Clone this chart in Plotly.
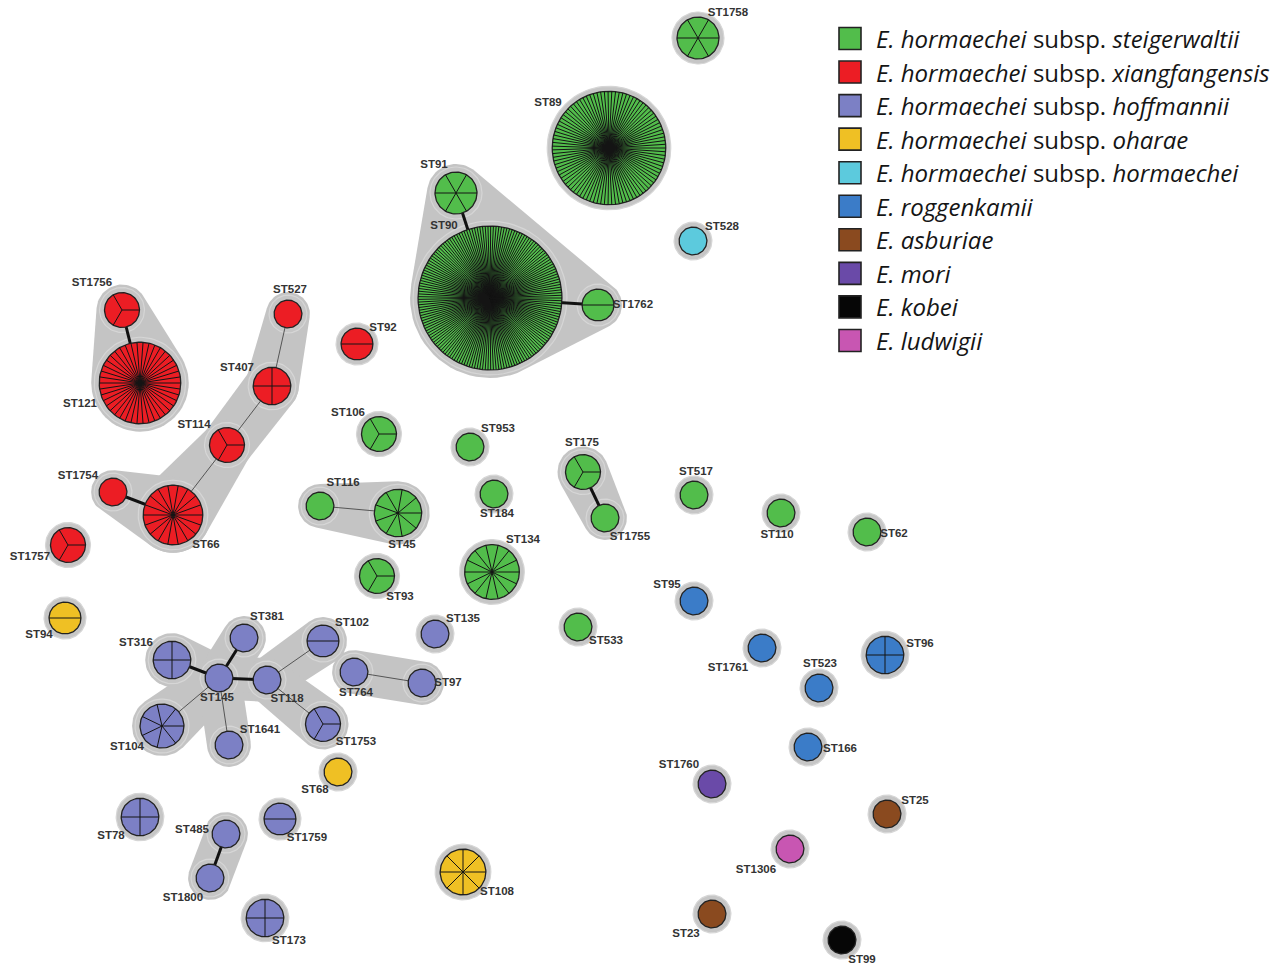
import math
import plotly.graph_objects as go

# ---------------- data ----------------
species_names = [
    "<i>E. hormaechei</i> subsp. <i>steigerwaltii</i>",
    "<i>E. hormaechei</i> subsp. <i>xiangfangensis</i>",
    "<i>E. hormaechei</i> subsp. <i>hoffmannii</i>",
    "<i>E. hormaechei</i> subsp. <i>oharae</i>",
    "<i>E. hormaechei</i> subsp. <i>hormaechei</i>",
    "<i>E. roggenkamii</i>",
    "<i>E. asburiae</i>",
    "<i>E. mori</i>",
    "<i>E. kobei</i>",
    "<i>E. ludwigii</i>",
]
species_colors = ["#52bd4b", "#ec1d24", "#7c80c5", "#efc024", "#5ccadd",
                  "#3b7cc8", "#8a4a1f", "#6a4aa8", "#060606", "#c856b2"]

st_names = ["ST1756", "ST121", "ST527", "ST407", "ST114", "ST1754", "ST66", "ST1757", "ST92",
            "ST1758", "ST89", "ST91", "ST90", "ST1762", "ST528",
            "ST106", "ST953", "ST116", "ST45", "ST184", "ST175", "ST1755", "ST93", "ST134",
            "ST517", "ST110", "ST62", "ST533",
            "ST95", "ST1761", "ST523", "ST96", "ST166", "ST1760", "ST25", "ST1306", "ST23", "ST99",
            "ST94", "ST316", "ST381", "ST145", "ST118", "ST102", "ST764", "ST97", "ST135",
            "ST104", "ST1641", "ST1753", "ST68", "ST78", "ST485", "ST1800", "ST1759", "ST173", "ST108"]
st_x = [122, 140, 288, 272, 227, 113, 173, 68, 357,
        698, 609, 456, 490, 598, 693,
        379, 470, 320, 398, 494, 583, 605, 377, 492,
        694, 781, 867, 578,
        694, 762, 819, 885, 808, 712, 887, 790, 712, 842,
        65, 172, 244, 219, 267, 323, 354, 422, 435,
        162, 229, 323, 338, 140, 226, 210, 280, 265, 463]
st_y = [310, 383, 314, 386, 445, 492, 515, 545, 344,
        38, 148, 193, 298, 305, 241,
        434, 447, 506, 513, 494, 472, 518, 576, 572,
        495, 513, 532, 627,
        601, 648, 688, 655, 747, 784, 814, 849, 914, 940,
        618, 660, 638, 678, 680, 641, 672, 683, 634,
        726, 745, 724, 772, 817, 834, 878, 819, 918, 872]
st_isolates = [3, 42, 1, 4, 3, 1, 18, 3, 2,
               6, 95, 6, 165, 2, 1,
               3, 1, 1, 9, 1, 3, 1, 3, 14,
               1, 1, 1, 1,
               1, 1, 1, 4, 1, 1, 1, 1, 1, 1,
               2, 4, 1, 1, 1, 2, 1, 1, 1,
               7, 1, 3, 1, 4, 1, 1, 2, 4, 8]
st_species = [1, 1, 1, 1, 1, 1, 1, 1, 1,
              0, 0, 0, 0, 0, 4,
              0, 0, 0, 0, 0, 0, 0, 0, 0,
              0, 0, 0, 0,
              5, 5, 5, 5, 5, 7, 6, 9, 6, 8,
              3, 2, 2, 2, 2, 2, 2, 2, 2,
              2, 2, 2, 3, 2, 2, 2, 2, 2, 3]
label_dx = [-30, -60, 2, -35, -33, -35, 33, -38, 26,
            30, -61, -22, -46, 35, 29,
            -31, 28, 23, 4, 3, -1, 25, 23, 31,
            2, -4, 27, 28,
            -27, -34, 1, 35, 32, -33, 28, -34, -26, 20,
            -26, -36, 23, -2, 20, 29, 2, 26, 28,
            -35, 31, 33, -23, -29, -34, -27, 27, 24, 34]
label_dy = [-27, 21, -24, -18, -20, -16, 30, 12, -16,
            -25, -45, -28, -72, 0, -14,
            -21, -18, -23, 32, 20, -29, 19, 21, -32,
            -23, 22, 2, 14,
            -16, 20, -24, -11, 2, -19, -13, 21, 20, 20,
            17, -17, -21, 20, 19, -18, 21, 0, -15,
            21, -15, 18, 18, 19, -4, 20, 19, 23, 20]

edge_from = ["ST1756", "ST527", "ST407", "ST114", "ST1754", "ST91", "ST90", "ST116", "ST175",
             "ST316", "ST381", "ST145", "ST145", "ST145", "ST118", "ST118", "ST764", "ST485"]
edge_to = ["ST121", "ST407", "ST114", "ST66", "ST66", "ST90", "ST1762", "ST45", "ST1755",
           "ST145", "ST145", "ST118", "ST104", "ST1641", "ST102", "ST1753", "ST97", "ST1800"]
edge_close = [True, False, False, False, True, True, True, False, True,
              True, True, True, False, False, False, False, False, True]

cluster_groups = [["ST1756", "ST121"], ["ST527", "ST407"], ["ST407", "ST114"], ["ST114", "ST66"],
                  ["ST66", "ST1754"], ["ST91", "ST90", "ST1762"], ["ST116", "ST45"],
                  ["ST175", "ST1755"], ["ST316", "ST145"], ["ST381", "ST145"], ["ST145", "ST118"],
                  ["ST145", "ST104"], ["ST145", "ST1641"], ["ST118", "ST102"], ["ST118", "ST1753"],
                  ["ST764", "ST97"], ["ST485", "ST1800"]]

# ---------------- helpers ----------------
W, H = 1285, 966
idx = {n: i for i, n in enumerate(st_names)}


def radius(n):
    return 9 + 4.9 * math.sqrt(n)


radii = [radius(n) for n in st_isolates]


def circle(cx, cy, r, k=90):
    xs, ys = [], []
    for j in range(k + 1):
        t = 2 * math.pi * j / k
        xs.append(cx + r * math.cos(t))
        ys.append(cy + r * math.sin(t))
    return xs, ys


def hull(points):
    pts = sorted(set(points))
    if len(pts) < 3:
        return pts

    def cross(o, a, b):
        return (a[0] - o[0]) * (b[1] - o[1]) - (a[1] - o[1]) * (b[0] - o[0])
    lower, upper = [], []
    for p in pts:
        while len(lower) >= 2 and cross(lower[-2], lower[-1], p) <= 0:
            lower.pop()
        lower.append(p)
    for p in reversed(pts):
        while len(upper) >= 2 and cross(upper[-2], upper[-1], p) <= 0:
            upper.pop()
        upper.append(p)
    return lower[:-1] + upper[:-1]


fig = go.Figure()

HULL_PAD = 8
HALO = 5

# cluster shading
for grp in cluster_groups:
    pts = []
    for name in grp:
        i = idx[name]
        xs, ys = circle(st_x[i], st_y[i], radii[i] + HULL_PAD, 72)
        pts += [(round(a, 2), round(b, 2)) for a, b in zip(xs, ys)]
    hp = hull(pts)
    hx = [p[0] for p in hp] + [hp[0][0]]
    hy = [p[1] for p in hp] + [hp[0][1]]
    fig.add_trace(go.Scatter(x=hx, y=hy, mode="lines", fill="toself", fillcolor="#c4c4c4",
                             line=dict(width=0, color="#c4c4c4"), hoverinfo="skip", showlegend=False))

# halos
hx, hy = [], []
for i in range(len(st_names)):
    xs, ys = circle(st_x[i], st_y[i], radii[i] + HALO)
    hx += xs + [None]
    hy += ys + [None]
fig.add_trace(go.Scatter(x=hx, y=hy, mode="lines", fill="toself", fillcolor="#c6c6c6",
                         line=dict(width=1.2, color="#d6d6d6"), hoverinfo="skip", showlegend=False))

# edges
for close, width, col in [(False, 1, "#555555"), (True, 3, "#111111")]:
    ex, ey = [], []
    for a, b, c in zip(edge_from, edge_to, edge_close):
        if c == close:
            ex += [st_x[idx[a]], st_x[idx[b]], None]
            ey += [st_y[idx[a]], st_y[idx[b]], None]
    fig.add_trace(go.Scatter(x=ex, y=ey, mode="lines", line=dict(width=width, color=col),
                             hoverinfo="skip", showlegend=False))

# nodes per species
for s, col in enumerate(species_colors):
    nx, ny = [], []
    for i in range(len(st_names)):
        if st_species[i] == s:
            xs, ys = circle(st_x[i], st_y[i], radii[i])
            nx += xs + [None]
            ny += ys + [None]
    if nx:
        fig.add_trace(go.Scatter(x=nx, y=ny, mode="lines", fill="toself", fillcolor=col,
                                 line=dict(width=1.3, color="#222222"), hoverinfo="skip",
                                 showlegend=False))

# pie slice dividers
sx, sy = [], []
for i in range(len(st_names)):
    n = st_isolates[i]
    if n > 1:
        for k in range(n):
            t = 2 * math.pi * k / n
            sx += [st_x[i], st_x[i] + radii[i] * math.cos(t), None]
            sy += [st_y[i], st_y[i] - radii[i] * math.sin(t), None]
fig.add_trace(go.Scatter(x=sx, y=sy, mode="lines", line=dict(width=1, color="#141414"),
                         hoverinfo="skip", showlegend=False))

# labels
fig.add_trace(go.Scatter(
    x=[st_x[i] + label_dx[i] for i in range(len(st_names))],
    y=[st_y[i] + label_dy[i] for i in range(len(st_names))],
    mode="text", text=st_names, textposition="middle center", cliponaxis=False,
    textfont=dict(family="Liberation Sans, Arial", size=11.5, color="#333333", weight="bold"),
    hoverinfo="skip", showlegend=False))

# legend
LEG_X, LEG_Y0, LEG_DY = 850, 38.5, 33.55
fig.add_trace(go.Scatter(
    x=[LEG_X] * len(species_colors),
    y=[LEG_Y0 + LEG_DY * k for k in range(len(species_colors))],
    mode="markers",
    marker=dict(symbol="square", size=22, color=species_colors, line=dict(width=1.6, color="#222222")),
    hoverinfo="skip", showlegend=False))
for k, name in enumerate(species_names):
    fig.add_annotation(x=LEG_X + 24, y=LEG_Y0 + LEG_DY * k, text=name, showarrow=False,
                       xanchor="left", yanchor="middle",
                       font=dict(family="Open Sans", size=24, color="#151515"))

fig.update_layout(
    width=W, height=H, margin=dict(l=0, r=0, t=0, b=0),
    paper_bgcolor="white", plot_bgcolor="white",
    xaxis=dict(range=[0, W], visible=False, fixedrange=True),
    yaxis=dict(range=[H, 0], visible=False, fixedrange=True),
)
fig.write_html("out.html", config={"displayModeBar": False},
               post_script="document.body.style.margin='0px';document.body.style.overflow='hidden';")
